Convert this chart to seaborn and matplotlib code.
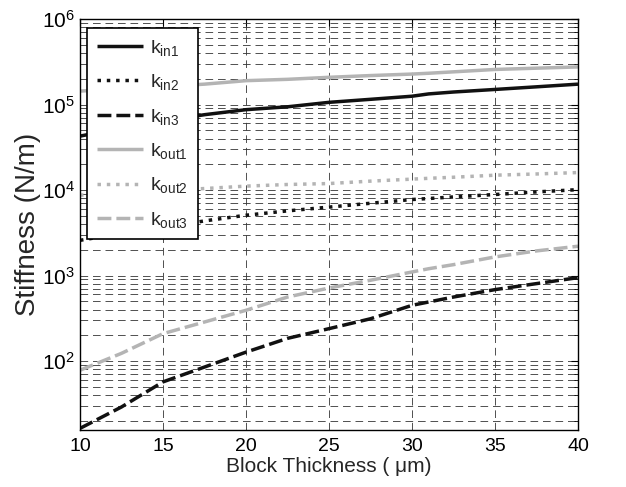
import numpy as np
import pandas as pd
import matplotlib
matplotlib.use("Agg")
import matplotlib.pyplot as plt
import seaborn as sns
from matplotlib.ticker import LogLocator, FixedLocator, NullFormatter

# ---- data ----
thickness = [10, 12.5, 15, 17.5, 20, 22.5, 25, 27.5, 30, 31, 32.5, 35, 37.5, 40]
k_in1 = [42700, 53000, 64000, 76000, 87000, 94000, 106000, 115000, 125000, 133000, 140000, 150000, 161000, 173000]
k_in2 = [2580, 3100, 3650, 4350, 5070, 5700, 6310, 7000, 7740, 7950, 8300, 8860, 9500, 10100]
k_in3 = [16.3, 29, 57, 85, 127, 184, 239, 312, 448, 490, 560, 684, 804, 944]
k_out1 = [143600, 152000, 162000, 173000, 190000, 197000, 208000, 218000, 227000, 232000, 241000, 257000, 266000, 275000]
k_out2 = [8700, 9300, 9900, 10400, 11100, 11600, 11900, 12700, 13400, 13700, 14100, 14900, 15400, 16000]
k_out3 = [78, 123, 209, 286, 392, 560, 714, 880, 1100, 1200, 1340, 1650, 1940, 2200]

labels = [r"$\mathrm{k}_{\mathrm{in1}}$", r"$\mathrm{k}_{\mathrm{in2}}$", r"$\mathrm{k}_{\mathrm{in3}}$",
          r"$\mathrm{k}_{\mathrm{out1}}$", r"$\mathrm{k}_{\mathrm{out2}}$", r"$\mathrm{k}_{\mathrm{out3}}$"]
series = [k_in1, k_in2, k_in3, k_out1, k_out2, k_out3]
x_ticks = [10, 15, 20, 25, 30, 35, 40]

sns.set_style("white")
plt.rcParams['font.family'] = ['Liberation Sans', 'DejaVu Sans']
plt.rcParams['mathtext.fontset'] = 'custom'
plt.rcParams['mathtext.rm'] = 'Liberation Sans'
plt.rcParams['mathtext.it'] = 'Liberation Sans'
plt.rcParams['mathtext.bf'] = 'Liberation Sans'
plt.rcParams['lines.scale_dashes'] = False

BLACK = '#111111'
GRAY = '#b4b4b4'
LW = 2.5
solid = '-'
dotted = (0, (2.5, 4.2))
dashed = (0, (10, 3.6))
styles = [(BLACK, solid), (BLACK, dotted), (BLACK, dashed),
          (GRAY, solid), (GRAY, dotted), (GRAY, dashed)]

fig = plt.figure(figsize=(6.26, 4.87), dpi=100)
ax = fig.add_axes([80/626, 57/487, 498/626, 411/487])

for lab, vals, (c, ls) in zip(labels, series, styles):
    sns.lineplot(x=thickness, y=vals, ax=ax, color=c, linestyle=ls, linewidth=LW,
                 label=lab, solid_capstyle='butt', dash_capstyle='butt')

ax.set_yscale('log')
ax.set_xlim(10, 40)
ax.set_ylim(15.6, 1e6)
ax.xaxis.set_major_locator(FixedLocator(x_ticks))
ax.yaxis.set_major_locator(LogLocator(base=10, numticks=20))
ax.yaxis.set_minor_locator(LogLocator(base=10, subs=np.arange(2, 10), numticks=100))
ax.yaxis.set_minor_formatter(NullFormatter())

gridls = (0, (5.5, 3.5))
ax.grid(True, which='major', axis='both', color='#333333', linestyle=gridls, linewidth=0.6)
ax.grid(True, which='minor', axis='y', color='#333333', linestyle=gridls, linewidth=0.6)

ax.tick_params(axis='both', which='both', direction='in', top=True, right=True,
               colors='black')
ax.tick_params(axis='y', labelsize=15)
ax.tick_params(axis='x', labelsize=14, pad=6)
ax.tick_params(which='major', length=5, width=0.8)
ax.tick_params(which='minor', length=3, width=0.6)
for s in ax.spines.values():
    s.set_color('black')
    s.set_linewidth(1.0)

ax.set_xlabel("Block Thickness ( μm)", fontsize=15, va='center')
ax.set_ylabel("Stiffness (N/m)", fontsize=20)
ax.xaxis.set_label_coords(0.5, -0.088)
ax.yaxis.set_label_coords(-0.078, 0.5)

leg = ax.legend(loc='upper left', bbox_to_anchor=(0.014, 0.978), borderaxespad=0,
                fontsize=14, handlelength=2.4, handletextpad=0.35, labelspacing=0.74,
                borderpad=0.5, fancybox=False, framealpha=1, edgecolor='black')
leg.get_frame().set_linewidth(1.2)

fig.savefig("out.png", dpi=100)
